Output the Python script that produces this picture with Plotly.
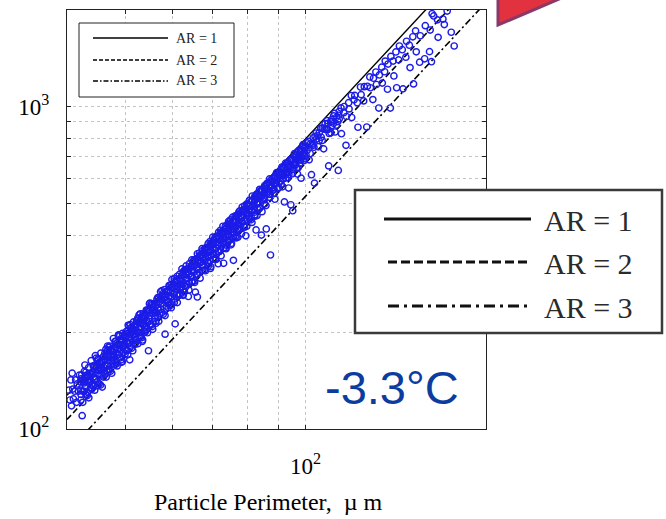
import plotly.graph_objects as go

# ---------------- data ----------------
# individually read points (perimeter in um, area in um^2)
perimeter = [
    40.3, 40.45, 40.6, 40.7, 40.9, 41.0, 40.8, 41.2, 41.35, 41.5, 41.6, 41.8, 41.95, 42.1, 42.2, 42.4, 42.3, 42.7, 42.85, 43.0, 43.1, 43.3, 43.45, 43.6, 43.7, 43.9, 44.0, 44.2, 44.35, 44.5, 44.6, 44.8, 44.95, 45.1, 45.2, 45.4, 45.55, 45.7, 45.8, 46.0, 46.15, 46.3, 46.45, 46.6, 46.7,
    47.0, 47.1, 46.9, 47.4, 47.55, 47.8, 47.9, 48.2, 48.3, 48.1, 48.6, 48.75, 49.0, 49.1, 49.4, 49.5, 49.3, 49.8, 49.95, 50.2, 50.3, 50.6, 50.75, 51.0, 51.1, 50.9, 51.5, 51.65, 52.0, 52.1, 51.9, 52.5, 52.65, 53.0, 53.1, 53.5, 53.6, 53.4, 54.0, 54.15, 54.7, 54.6, 54.8, 55.2, 55.35,
    55.8, 55.95, 56.4, 56.5, 56.3, 57.0, 57.15, 57.6, 57.7, 58.3, 58.4, 58.2, 58.9, 59.0, 59.5, 59.6, 59.4, 60.1, 60.25, 60.6, 60.7, 61.2, 61.3, 61.1, 61.8, 61.95, 62.4, 62.5, 63.0, 63.1, 62.9, 63.6, 63.75, 64.2, 64.3, 64.8, 64.9, 64.7, 65.5, 65.6,
    66.0, 66.1, 65.9, 66.7, 66.85, 67.4, 67.5, 67.3, 68.1, 68.25, 68.8, 68.9, 69.5, 69.6, 69.4, 70.2, 70.35, 70.9, 71.0, 71.6, 71.7, 71.5, 72.3, 72.45, 73.0, 73.1, 72.9, 73.7, 73.85, 74.4, 74.5, 74.3, 75.1, 75.25, 75.8, 75.9, 75.7,
    76.5, 76.65, 77.2, 77.3, 77.1, 78.0, 78.15, 78.8, 78.9, 79.6, 79.7, 79.5, 80.4, 80.55, 81.2, 81.3, 81.1, 82.0, 82.15, 82.8, 82.9, 82.7, 83.6, 83.75, 84.4, 84.5, 84.3, 85.2, 85.35, 86.0, 86.1, 85.9, 86.8, 86.95, 87.4, 87.5, 87.3,
    88.2, 88.35, 89.0, 89.1, 88.9, 89.8, 89.95, 90.6, 90.75, 91.4, 91.5, 91.3, 92.2, 92.35, 93.0, 93.15, 93.8, 93.9, 93.7, 94.5, 94.65, 95.2, 95.3, 95.1, 96.0, 96.15, 96.8, 96.95, 97.6, 97.75, 98.4, 98.5, 98.3, 99.2, 99.35,
    100.0, 100.2, 101.2, 101.4, 102.3, 102.5, 103.5, 103.7, 103.3, 104.8, 105.0, 106.0, 106.2, 107.2, 107.4, 108.4, 108.6, 109.3, 109.5, 110.5, 110.7, 111.8, 112.0, 113.4, 113.6, 113.2, 114.6, 114.8, 115.8, 116.0, 116.8, 117.0, 118.0, 118.2, 119.2, 119.4,
    120.5, 120.8, 122.0, 122.3, 123.5, 123.8, 125.0, 125.3, 126.5, 126.8, 128.0, 128.3, 129.5, 129.8, 131.0, 131.3, 132.5, 132.8, 134.0, 134.3, 135.5, 135.8, 137.0, 137.3, 138.5, 138.8,
    140.0, 140.4, 141.5, 141.9, 143.0, 143.4, 145.0, 145.4, 147.0, 147.4, 149.0, 149.4, 151.0, 151.4, 152.6, 153.0, 155.0, 155.4, 158.0, 158.4, 161.0, 161.4, 162.2, 162.6, 163.6, 166.0, 166.4, 169.5, 170.4, 172.3, 175.0, 177.0,
]
area = [
    132, 123, 142, 118, 133, 124, 149, 131, 142, 121, 138, 131, 147, 140, 128, 110, 147, 139, 158, 135, 147, 130, 155, 148, 141, 163, 137, 148, 157, 143, 169, 157, 136, 165, 152, 148, 172, 161, 135, 168, 155, 164, 177, 152, 175,
    167, 181, 153, 177, 163, 191, 169, 179, 159, 187, 177, 196, 172, 189, 186, 198, 161, 182, 197, 194, 176, 210, 192, 186, 205, 164, 201, 215, 198, 211, 183, 221, 206, 199, 217, 212, 228, 187, 223, 209, 175, 233, 221, 211, 245,
    235, 245, 230, 253, 213, 248, 228, 259, 246, 197, 257, 271, 248, 268, 265, 242, 279, 276, 262, 212, 286, 277, 259, 298, 289, 274, 301, 260, 291, 313, 278, 306, 258, 318, 298, 311, 331, 287, 266, 324,
    257, 333, 312, 347, 329, 318, 343, 358, 340, 358, 320, 354, 377, 346, 315, 373, 388, 364, 348, 392, 379, 326, 408, 370, 327, 403, 390, 419, 372, 410, 436, 396, 426, 377, 334, 443, 416,
    438, 410, 465, 436, 394, 460, 436, 479, 425, 469, 499, 398, 494, 458, 477, 509, 446, 503, 471, 535, 502, 415, 528, 484, 400, 527, 550, 520, 555, 418, 553, 494, 582, 546, 347, 565, 535,
    588, 551, 611, 580, 517, 603, 558, 627, 588, 618, 565, 651, 507, 643, 626, 668, 616, 658, 560, 497, 682, 476, 664, 620, 697, 660, 723, 619, 705, 667, 732, 701, 601, 752, 681,
    748, 708, 782, 685, 616, 766, 580, 810, 750, 813, 752, 858, 805, 741, 860, 851, 907, 656, 827, 913, 875, 955, 836, 635, 942, 901, 993, 826, 960, 1003, 760, 934, 1031, 986, 1085, 927,
    1052, 1086, 1031, 865, 1153, 1092, 1044, 1156, 866, 1159, 1239, 1147, 1054, 1228, 1284, 1174, 992, 1257, 1329, 1186, 1286, 1388, 1135, 1359, 992, 1435,
    1388, 1248, 1482, 1147, 1400, 1546, 1506, 1138, 1427, 1599, 1555, 1325, 1651, 1179, 1723, 1483, 1377, 1663, 1411, 1788, 1485, 1733, 1382, 1947, 1917, 1864, 1645, 1875, 1802, 1985, 1706, 1546,
]

# the dense core of the cloud: perimeter columns and the areas read in each column
dense_perimeter = [
    42.2, 42.75, 43.25, 43.75, 44.25, 44.75, 45.25, 45.75, 46.25, 46.75, 47.25, 47.75, 48.25, 48.75,
    49.25, 49.75, 50.25, 50.75, 51.25, 51.75, 52.25, 52.75, 53.25, 53.75, 54.25, 54.9, 55.5, 56.0,
    56.7, 57.3, 57.9, 58.6, 59.2, 59.85, 60.4, 61.0, 61.6, 62.2, 62.8, 63.4, 64.0, 64.6, 65.2, 65.8,
    66.5, 67.2, 67.9, 68.6, 69.3, 70.0, 70.7, 71.4, 72.1, 72.8, 73.5, 74.2, 74.9, 75.6, 76.3, 77.0,
    77.7, 78.4, 79.1, 79.9, 80.7, 81.5, 82.3, 83.1, 83.9, 84.7, 85.5, 86.3, 87.1, 87.9, 88.7, 89.5,
    90.3, 91.1, 91.9, 92.7, 93.5, 94.3, 95.6, 96.4, 97.2, 98.0, 98.8, 99.6, 100.6, 101.8, 103.0,
    104.2, 105.4, 106.6, 107.8, 109.0, 110.2, 111.4, 112.6, 113.8,
]
dense_area = [
    [143, 132, 123], [141, 131, 151], [141, 127, 147], [140, 149, 134], [157, 145, 136], [155, 143, 166],
    [155, 138, 161], [153, 163, 147], [172, 158, 148], [169, 157, 181], [169, 151, 176], [167, 178, 160],
    [187, 172, 161], [183, 170, 195], [183, 164, 191], [181, 193, 173], [201, 187, 175], [199, 184, 209],
    [199, 178, 207], [196, 209, 188], [217, 202, 189], [215, 199, 226], [214, 192, 223], [212, 225, 202],
    [234, 218, 204], [233, 216, 245], [233, 208, 243], [230, 245, 220], [256, 238, 223], [253, 235, 267],
    [253, 227, 264], [251, 268, 241], [279, 259, 243], [277, 257, 291], [276, 247, 287], [272, 290, 261],
    [302, 281, 263], [299, 277, 314], [298, 267, 311], [294, 313, 282], [326, 303, 284], [322, 299, 335],
    [321, 288, 335], [317, 338, 303], [352, 327, 306], [349, 323, 363], [349, 312, 363], [345, 367, 330],
    [382, 355, 333], [378, 351, 394], [378, 338, 394], [373, 398, 357], [414, 385, 360], [409, 380, 426],
    [408, 365, 426], [403, 429, 386], [446, 415, 388], [441, 409, 455], [440, 394, 459], [434, 462, 415],
    [476, 447, 418], [474, 440, 489], [473, 423, 493], [467, 498, 447], [513, 482, 451], [513, 476, 529],
    [512, 458, 528], [506, 533, 484], [555, 521, 487], [548, 514], [547, 500, 570], [545, 575],
    [598, 537], [584, 560], [607, 538], [593, 625], [584, 623], [621, 575], [652, 612], [636, 602],
    [668, 626], [651, 686], [684, 640], [710, 673], [699, 647], [726, 688], [753, 715], [703, 742],
    [773, 733], [767, 717], [802, 760], [795, 830], [787, 831], [859, 787], [851, 888], [851, 889],
    [899, 831], [938, 889], [928, 878], [969, 918],
]

# a second pass over the dense core, read between the columns above
core_perimeter = [
    42.5, 43.0, 43.5, 44.0, 44.5, 45.0, 45.5, 46.0, 46.5, 47.0, 47.5, 48.0, 48.5, 49.0, 49.5,
    50.0, 50.5, 51.0, 51.5, 52.0, 52.5, 53.0, 53.5, 54.0, 54.5, 55.0, 55.6, 56.2, 56.9, 57.6,
    58.3, 59.0, 59.7, 60.4, 61.1, 61.8, 62.5, 63.2, 63.9, 64.6, 65.3, 66.0, 66.7, 67.4, 68.1,
    68.8, 69.5, 70.2, 70.9, 71.6, 72.3, 73.0, 73.7, 74.4, 75.1, 75.8, 76.6, 77.4, 78.2, 79.0,
    79.8, 80.6, 81.4, 82.2, 83.0, 83.8, 84.6, 85.4, 86.2, 87.0, 87.8, 88.6, 89.4, 90.2, 91.0,
    91.8, 92.6, 93.4, 94.2, 95.0, 95.8, 96.6, 97.4, 98.2, 99.0, 99.8,
]
core_area = [
    [142, 131, 121], [140, 128, 150], [140, 125, 146], [137, 148, 133], [156, 143, 132],
    [153, 140, 164], [153, 137, 160], [150, 162, 145], [170, 157, 145], [167, 153, 179],
    [167, 149, 174], [163, 176, 158], [185, 170, 157], [182, 166, 195], [181, 162, 189],
    [177, 191, 171], [201, 185, 170], [197, 180, 211], [196, 175, 205], [192, 207, 185],
    [217, 200, 184], [212, 194, 228], [212, 189, 221], [207, 223, 200], [234, 215, 199],
    [229, 209, 246], [229, 204, 239], [224, 241, 216], [255, 234, 216], [251, 230, 269],
    [252, 225, 262], [247, 266, 238], [281, 258, 238], [276, 253, 293], [276, 247, 288],
    [270, 292, 261], [308, 283, 261], [302, 277, 321], [302, 270, 315], [296, 319, 286],
    [336, 309, 285], [329, 302, 350], [329, 294, 343], [322, 347, 311], [365, 336, 310],
    [358, 328, 377], [357, 319, 373], [349, 377, 337], [396, 364, 336], [388, 355, 408],
    [387, 345, 404], [377, 407, 365], [428, 393, 363], [418, 383, 441], [417, 373, 435],
    [407, 439, 393], [458, 425, 392], [453, 415, 472], [453, 404, 472], [442, 477, 427],
    [497, 461, 426], [491, 450, 512], [490, 438, 511], [479, 516, 462], [537, 499, 460],
    [531, 486, 553], [530, 473, 553], [517, 557], [579, 538], [572, 524], [571, 595],
    [556, 600], [623, 579], [615, 563], [613, 639], [597, 644], [669, 621], [659, 604],
    [657, 685], [639, 689], [716, 665], [705, 646], [702, 732], [683, 737], [764, 710],
    [753, 690],
]
assert len(perimeter) == len(area)
assert len(dense_perimeter) == len(dense_area)
assert len(core_perimeter) == len(core_area)

# reference lines (aspect ratio 1, 2, 3), end points
line_perimeter = [40, 200]
ar1_area = [127.3, 3183]
ar2_area = [107.0, 2676]
ar3_area = [84.5, 2112]
legend_labels = ["AR = 1", "AR = 2", "AR = 3"]

x_tickvals = [40, 50, 60, 70, 80, 90, 100, 200]
x_ticktext = ["", "", "", "", "", "", "10<sup>2</sup>", ""]
y_tickvals = [100, 200, 300, 400, 500, 600, 700, 800, 900, 1000, 2000]
y_ticktext = ["10<sup>2</sup>", "", "", "", "", "", "", "", "", "10<sup>3</sup>", ""]
x_title = "Particle Perimeter,  \u00b5 m"
temp_label = "-3.3\u00b0C"

# ---------------- layout geometry (pixels) ----------------
W, H = 666, 519
L, R, T, B = 67, 486, 10, 429


def px(x):
    return (x - L) / (R - L)


def py(y):
    return (B - y) / (B - T)


all_p = list(perimeter)
all_a = list(area)
for cols_p, cols_a in ((dense_perimeter, dense_area), (core_perimeter, core_area)):
    for p, col in zip(cols_p, cols_a):
        for a in col:
            all_p.append(p)
            all_a.append(a)

SERIF = "Liberation Serif"
line_styles = [
    dict(color="black", width=1.4, dash="solid"),
    dict(color="black", width=1.6, dash="6px,3px"),
    dict(color="black", width=1.6, dash="7px,3px,2px,3px"),
]

fig = go.Figure()
for yy, st in zip([ar1_area, ar2_area, ar3_area], line_styles):
    fig.add_trace(go.Scatter(x=line_perimeter, y=yy, mode="lines", line=st,
                             showlegend=False, hoverinfo="skip"))

fig.add_trace(go.Scatter(
    x=all_p, y=all_a, mode="markers", showlegend=False,
    marker=dict(symbol="circle-open", size=6.3, color="rgb(28,28,232)",
                line=dict(width=1.4)),
))

shapes = []
annotations = []

# small (original) legend, upper left
shapes.append(dict(type="rect", xref="paper", yref="paper",
                   x0=px(79), x1=px(234), y0=py(97), y1=py(23),
                   line=dict(color="#222", width=1), fillcolor="white", layer="above"))
small_dash = ["solid", "4px,2px", "5px,2px,1.5px,2px"]
for i, (lab, ry) in enumerate(zip(legend_labels, [38, 60, 81])):
    shapes.append(dict(type="line", xref="paper", yref="paper",
                       x0=px(93), x1=px(168), y0=py(ry), y1=py(ry),
                       line=dict(color="black", width=1.3, dash=small_dash[i]), layer="above"))
    annotations.append(dict(xref="paper", yref="paper", x=px(174), y=py(ry),
                            xanchor="left", yanchor="middle", showarrow=False,
                            text=lab, font=dict(family=SERIF, size=14, color="#222")))

# large pasted legend on the right
shapes.append(dict(type="rect", xref="paper", yref="paper",
                   x0=px(355), x1=px(662), y0=py(333), y1=py(190),
                   line=dict(color="#3a3a3a", width=2.5), fillcolor="white", layer="above"))
big_dash = ["solid", "9px,4px", "11px,5px,3px,5px"]
for i, (lab, ry) in enumerate(zip(legend_labels, [219, 262, 306])):
    shapes.append(dict(type="line", xref="paper", yref="paper",
                       x0=px(384 if i == 0 else 388), x1=px(531), y0=py(ry), y1=py(ry),
                       line=dict(color="#111", width=3, dash=big_dash[i]), layer="above"))
    annotations.append(dict(xref="paper", yref="paper", x=px(542), y=py(ry + 1),
                            xanchor="left", yanchor="middle", showarrow=False,
                            text=lab, font=dict(family=SERIF, size=30, color="#2a2a2a")))

# red arrow fragment at the top
tri = [(498, -12), (585, -12), (498, 25)]
path = "M {} {} L {} {} L {} {} Z".format(*[v for p in tri for v in (px(p[0]), py(p[1]))])
shapes.append(dict(type="path", xref="paper", yref="paper", path=path,
                   fillcolor="#e2323f", line=dict(color="#8a3868", width=3), layer="above"))

# temperature label
annotations.append(dict(xref="paper", yref="paper", x=px(392), y=py(387),
                        xanchor="center", yanchor="middle", showarrow=False,
                        text=temp_label,
                        font=dict(family="Liberation Sans", size=47, color="#0c3d9e")))

# x axis title
annotations.append(dict(xref="paper", yref="paper", x=px(268), y=py(502),
                        xanchor="center", yanchor="middle", showarrow=False,
                        text=x_title, font=dict(family=SERIF, size=24, color="black")))

axis_common = dict(
    type="log", showline=True, linecolor="#222", linewidth=1.2, mirror="ticks",
    ticks="inside", ticklen=4, tickcolor="#222", showgrid=True,
    gridcolor="#c4c4c4", griddash="dot", gridwidth=1, zeroline=False,
    tickfont=dict(family=SERIF, size=23, color="black"),
)

fig.update_layout(
    width=W, height=H,
    margin=dict(l=L, r=W - R, t=T, b=H - B, autoexpand=False),
    paper_bgcolor="white", plot_bgcolor="white",
    xaxis=dict(axis_common, range=[1.60206, 2.30103], tickmode="array",
               tickvals=x_tickvals, ticktext=x_ticktext, ticklabelstandoff=16),
    yaxis=dict(axis_common, range=[2.0, 3.30103], tickmode="array",
               tickvals=y_tickvals, ticktext=y_ticktext, ticklabelstandoff=12),
    shapes=shapes, annotations=annotations,
)

fig.write_html("out.html", config={"displayModeBar": False},
               post_script="document.body.style.margin='0px';document.body.style.overflow='hidden';")
